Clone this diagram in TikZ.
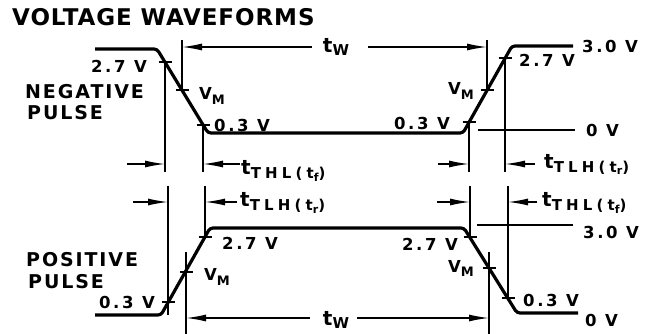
\documentclass[tikz,border=0pt]{standalone}
\usepackage{fontspec}
\setmainfont{DejaVu Sans}
\newfontfamily\titlefont[LetterSpace=4]{DejaVu Sans}
\newfontfamily\labelfont[LetterSpace=16]{DejaVu Sans}
\newfontfamily\pulsefont[LetterSpace=10]{DejaVu Sans}
\newfontfamily\subfont[LetterSpace=28]{DejaVu Sans}
\usetikzlibrary{arrows.meta}

% subscripted labels
\newcommand{\tsub}[2]{{\fontsize{20}{20}\selectfont t}\raisebox{-4pt}{\subfont\bfseries\fontsize{15}{15}\selectfont #1(t\raisebox{-2.5pt}{\fontsize{11}{11}\selectfont #2})}}
\newcommand{\vmlbl}{V\raisebox{-5pt}{\fontsize{13}{13}\selectfont M}}
\newcommand{\twlbl}{{\fontsize{20}{20}\selectfont t}\raisebox{-3pt}{\fontsize{15}{15}\selectfont W}}

\tikzset{
    wave/.style={line width=3.2pt, line join=round, rounded corners=3pt},
    dimline/.style={line width=1.4pt},
    dimarrow/.style={-{Latex[length=20pt,width=7pt]}, line width=1.4pt},
    tickmark/.style={line width=1.4pt},
    lbl/.style={inner sep=0pt, font={\labelfont\bfseries\fontsize{16.5}{16.5}\selectfont}},
    pulselbl/.style={inner sep=0pt, anchor=west, font={\pulsefont\bfseries\fontsize{19}{19}\selectfont}},
}

\begin{document}
\begin{tikzpicture}[x=1pt, y=-1pt]
    \useasboundingbox (0,0) rectangle (651,334);

    % Title
    \node[anchor=west, inner sep=0pt, font={\titlefont\bfseries\fontsize{23}{23}\selectfont}] (title) at (12,17) {VOLTAGE WAVEFORMS};

    % Levels
    \coordinate (top) at (0,40);
    \coordinate (twtop) at (0,47);
    \coordinate (row1) at (0,164);
    \coordinate (row1end) at (0,172);
    \coordinate (row2top) at (0,186);
    \coordinate (row2) at (0,202);
    \coordinate (vmtop) at (0,252);
    \coordinate (twbot) at (0,318);
    \coordinate (bot) at (0,334);

    % Negative pulse
    \coordinate (n1) at (95,49);
    \coordinate (n2) at (157,49);
    \coordinate (n3) at (208,133);
    \coordinate (n4) at (463,133);
    \coordinate (n5) at (512,46);
    \coordinate (n6) at (573,46);
    \coordinate (nf1) at (165,62);
    \coordinate (nf2) at (182,90);
    \coordinate (nf3) at (203,125);
    \coordinate (nr1) at (469,122);
    \coordinate (nr2) at (487,90);
    \coordinate (nr3) at (505,58);
    \draw[wave] (n1) -- (n2) -- (n3) -- (n4) -- (n5) -- (n6);

    % Positive pulse
    \coordinate (p1) at (95,315);
    \coordinate (p2) at (161,315);
    \coordinate (p3) at (210,228);
    \coordinate (p4) at (464,228);
    \coordinate (p5) at (517,313);
    \coordinate (p6) at (578,313);
    \coordinate (pr1) at (168,302);
    \coordinate (pr2) at (186,272);
    \coordinate (pr3) at (205,237);
    \coordinate (pf1) at (470,237);
    \coordinate (pf2) at (489,268);
    \coordinate (pf3) at (508,298);
    \draw[wave] (p1) -- (p2) -- (p3) -- (p4) -- (p5) -- (p6);

    % Ticks
    \foreach \c in {nf1,nf2,nf3,nr1,nr2,nr3,pr1,pr2,pr3,pf1,pf2,pf3}
        \draw[tickmark] (\c) +(-6.5,0) -- +(6.5,0);

    % Reference levels
    \coordinate (zeroA) at (478,130);
    \coordinate (zeroB) at (575,130);
    \coordinate (threeA) at (477,225);
    \coordinate (threeB) at (573,225);
    \draw[dimline] (zeroA) -- (zeroB);
    \draw[dimline] (threeA) -- (threeB);

    % Extension lines
    \draw[dimline] (nf1) -- (nf1 |- row1end);
    \draw[dimline] (nf3) -- (nf3 |- row1end);
    \draw[dimline] (nr1) -- (nr1 |- row1end);
    \draw[dimline] (nr3) -- (nr3 |- row1end);
    \draw[dimline] (nf2) -- (nf2 |- top);
    \draw[dimline] (nr2) -- (nr2 |- top);
    \draw[dimline] (pr1 |- row2top) -- (pr1 |- p2);
    \draw[dimline] (pr3 |- row2top) -- (pr3);
    \draw[dimline] (pf1 |- row2top) -- (pf1);
    \draw[dimline] (pf3 |- row2top) -- (pf3);
    \draw[dimline] (pr2 |- vmtop) -- (pr2 |- bot);
    \draw[dimline] (pf2 |- vmtop) -- (pf2 |- bot);

    % Dimension arrows
    \coordinate (a1) at (127,164);
    \coordinate (a2) at (240,164);
    \coordinate (a3) at (438,164);
    \coordinate (a4) at (535,164);
    \coordinate (b1) at (133,202);
    \coordinate (b2) at (237,202);
    \coordinate (b3) at (437,202);
    \coordinate (b4) at (537,202);
    \coordinate (c1) at (312,47);
    \coordinate (c2) at (368,47);
    \coordinate (e1) at (310,318);
    \coordinate (e2) at (357,318);
    \draw[dimarrow] (a1) -- (nf1 |- row1);
    \draw[dimarrow] (a2) -- (nf3 |- row1);
    \draw[dimarrow] (a3) -- (nr1 |- row1);
    \draw[dimarrow] (a4) -- (nr3 |- row1);
    \draw[dimarrow] (b1) -- (pr1 |- row2);
    \draw[dimarrow] (b2) -- (pr3 |- row2);
    \draw[dimarrow] (b3) -- (pf1 |- row2);
    \draw[dimarrow] (b4) -- (pf3 |- row2);
    \draw[dimarrow] (c1) -- (nf2 |- twtop);
    \draw[dimarrow] (c2) -- (nr2 |- twtop);
    \draw[dimarrow] (e1) -- (pr2 |- twbot);
    \draw[dimarrow] (e2) -- (pf2 |- twbot);

    % Time labels
    \node[lbl, anchor=base] (twa) at (336,53) {\twlbl};
    \node[lbl, anchor=base] (twb) at (336,325) {\twlbl};
    \node[lbl, anchor=base west] (thl1) at (241,175) {\tsub{THL}{f}};
    \node[lbl, anchor=base west] (tlh1) at (544,168) {\tsub{TLH}{r}};
    \node[lbl, anchor=base west] (tlh2) at (240,207) {\tsub{TLH}{r}};
    \node[lbl, anchor=base west] (thl2) at (542,207) {\tsub{THL}{f}};

    % Negative pulse labels
    \node[lbl, anchor=east] (n27a) at (147,66) {2.7 V};
    \node[pulselbl] (neg) at (25,92) {NEGATIVE};
    \node[pulselbl] (negp) at (27,113) {PULSE};
    \node[lbl, anchor=base west] (nvma) at (199,100) {\vmlbl};
    \node[lbl, anchor=west] (n03a) at (214,125) {0.3 V};
    \node[lbl, anchor=base east] (nvmb) at (474,95) {\vmlbl};
    \node[lbl, anchor=east] (n03b) at (450,123) {0.3 V};
    \node[lbl, anchor=west] (n27b) at (519,60) {2.7 V};
    \node[lbl, anchor=west] (n30) at (582,46) {3.0 V};
    \node[lbl, anchor=west] (n0) at (586,130) {0 V};

    % Positive pulse labels
    \node[pulselbl] (pos) at (26,260) {POSITIVE};
    \node[pulselbl] (posp) at (28,282) {PULSE};
    \node[lbl, anchor=east] (p03a) at (155,302) {0.3 V};
    \node[lbl, anchor=base west] (pvma) at (204,280) {\vmlbl};
    \node[lbl, anchor=west] (p27a) at (222,243) {2.7 V};
    \node[lbl, anchor=east] (p27b) at (458,244) {2.7 V};
    \node[lbl, anchor=base east] (pvmb) at (474,272) {\vmlbl};
    \node[lbl, anchor=west] (p03b) at (523,300) {0.3 V};
    \node[lbl, anchor=west] (p30) at (583,232) {3.0 V};
    \node[lbl, anchor=west] (p0) at (585,320) {0 V};
\end{tikzpicture}
\end{document}
